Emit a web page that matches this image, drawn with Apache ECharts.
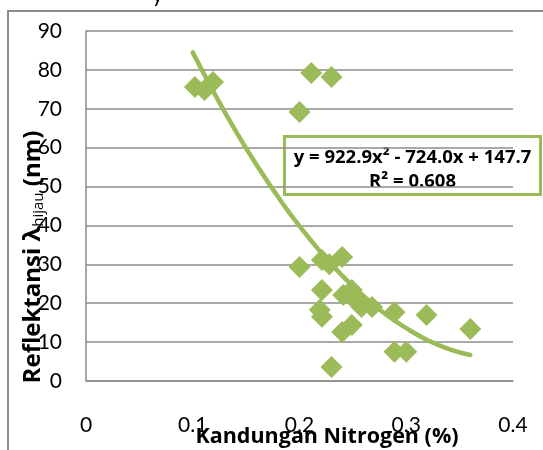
<!DOCTYPE html>
<html>
<head>
<meta charset="utf-8">
<script src="https://cdn.jsdelivr.net/npm/echarts@6/dist/echarts.min.js"></script>
<style>html,body{margin:0;padding:0;background:#fff;}#c{width:543px;height:450px;}</style>
</head>
<body>
<div id="c"></div>
<script>
// Observed data (Kandungan Nitrogen %, Reflektansi λhijau nm)
var nitrogen = [0.102, 0.111, 0.119, 0.211, 0.230, 0.200, 0.200, 0.221, 0.228, 0.240, 0.221, 0.219, 0.221, 0.241, 0.249, 0.252, 0.258, 0.268, 0.240, 0.249, 0.230, 0.289, 0.319, 0.360, 0.289, 0.300];
var reflektansi = [75.6, 74.8, 76.9, 79.2, 78.2, 69.2, 29.3, 31.1, 30.0, 31.9, 23.4, 18.3, 16.5, 22.1, 23.4, 20.8, 19.0, 19.0, 12.6, 14.4, 3.6, 17.7, 17.0, 13.4, 7.5, 7.5];
// Trend line
var trendX = [0.10, 0.12, 0.14, 0.16, 0.18, 0.20, 0.22, 0.24, 0.26, 0.28, 0.30, 0.32, 0.34, 0.36];
var trendY = [84.5, 74.1, 64.4, 55.5, 47.3, 39.8, 33.1, 27.1, 21.9, 17.3, 13.6, 10.5, 8.2, 6.7];
var xTicks = [0, 0.1, 0.2, 0.3, 0.4];
var yTicks = [0, 10, 20, 30, 40, 50, 60, 70, 80, 90];
var equationText = 'y = 922.9x² - 724.0x + 147.7';
var r2Text = 'R² = 0.608';
var xTitle = 'Kandungan Nitrogen (%)';

var green = '#9BBB59';
var font = 'Lato, "Open Sans", sans-serif';
var boldFont = '"Open Sans", "Noto Sans", sans-serif';

var pts = nitrogen.map(function (x, i) { return [x, reflektansi[i]]; });
var trend = trendX.map(function (x, i) { return [x, trendY[i]]; });

var chart = echarts.init(document.getElementById('c'), null, { renderer: 'canvas' });
chart.setOption({
  animation: false,
  backgroundColor: '#fff',
  grid: { left: 86, right: 30, top: 31, bottom: 69, containLabel: false },
  xAxis: {
    type: 'value', min: xTicks[0], max: xTicks[xTicks.length - 1], interval: 0.1,
    axisLine: { show: true, lineStyle: { color: '#8c8c8c', width: 1.5 } },
    axisTick: { show: false },
    splitLine: { show: false },
    axisLabel: { margin: 34, color: '#000', fontSize: 21, fontFamily: font,
      formatter: function (v) { return String(Math.round(v * 10) / 10); } }
  },
  yAxis: {
    type: 'value', min: yTicks[0], max: yTicks[yTicks.length - 1], interval: 10,
    axisLine: { show: true, lineStyle: { color: '#8c8c8c', width: 1.5 } },
    axisTick: { show: false },
    splitLine: { show: true, lineStyle: { color: '#8c8c8c', width: 1.5 } },
    axisLabel: { margin: 24, color: '#000', fontSize: 21, fontFamily: font }
  },
  series: [
    {
      type: 'line', data: trend, smooth: true, symbol: 'none', z: 3,
      lineStyle: { color: green, width: 4.5, cap: 'round' }
    },
    {
      type: 'scatter', data: pts, symbol: 'diamond', symbolSize: 22, z: 2,
      itemStyle: { color: green, opacity: 1 }
    }
  ],
  graphic: [
    { type: 'rect', silent: true, z: -10, shape: { x: 8, y: 11, width: 700, height: 600 },
      style: { fill: 'none', stroke: '#8c8c8c', lineWidth: 2 } },
    { type: 'text', left: 152, top: -16, silent: true,
      style: { text: 'y', font: '22px ' + font, fill: '#000' } },
    { type: 'group', left: 283, top: 135, z: 10, children: [
      { type: 'rect', shape: { x: 0, y: 0, width: 256, height: 58 },
        style: { fill: '#fff', stroke: green, lineWidth: 3 } },
      { type: 'text', x: 128, y: 21, style: { text: equationText, font: 'bold 18.5px ' + boldFont, fill: '#000', textAlign: 'center', textVerticalAlign: 'middle' } },
      { type: 'text', x: 128, y: 45, style: { text: r2Text, font: 'bold 18.5px ' + boldFont, fill: '#000', textAlign: 'center', textVerticalAlign: 'middle' } }
    ] },
    { type: 'text', x: 327, y: 437, z: 10,
      style: { text: xTitle, font: 'bold 21.5px ' + boldFont, fill: '#000', textAlign: 'center', textVerticalAlign: 'middle' } },
    { type: 'text', x: 33, y: 257, rotation: Math.PI / 2, z: 10,
      style: {
        text: '{b|Reflektansi λ}{s|hijau}{b| (nm)}',
        textAlign: 'center', textVerticalAlign: 'middle',
        rich: {
          b: { font: 'bold 24px ' + boldFont, fill: '#000' },
          s: { font: '15px ' + boldFont, fill: '#000', padding: [12, 0, 0, 0] }
        }
      } }
  ]
});
</script>
</body>
</html>
